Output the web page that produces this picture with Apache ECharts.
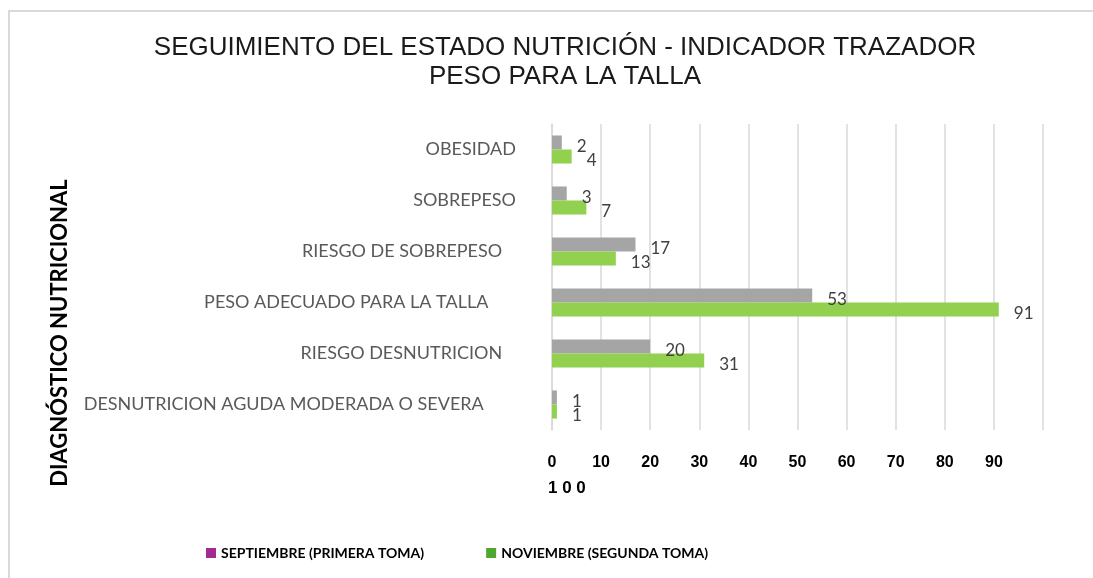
<!DOCTYPE html>
<html>
<head>
<meta charset="utf-8">
<script src="https://cdn.jsdelivr.net/npm/echarts@6/dist/echarts.min.js"></script>
<style>
  html, body { margin: 0; padding: 0; background: #fff; }
  #main { width: 1093px; height: 578px; }
</style>
</head>
<body>
<div id="main"></div>
<script>
// categorias (de abajo hacia arriba), con los espacios finales del original
var categorias = [
  'DESNUTRICION AGUDA MODERADA O SEVERA       ',
  'RIESGO DESNUTRICION   ',
  'PESO ADECUADO PARA LA TALLA      ',
  'RIESGO DE SOBREPESO   ',
  'SOBREPESO',
  'OBESIDAD'
];
var septiembre = [1, 20, 53, 17, 3, 2];
var noviembre = [1, 31, 91, 13, 7, 4];
var nombreSep = 'SEPTIEMBRE (PRIMERA TOMA)';
var nombreNov = 'NOVIEMBRE (SEGUNDA TOMA)';
var ejeMin = 0, ejeMax = 100, ejeIntervalo = 10;

var myChart = echarts.init(document.getElementById('main'));

var labelStyle = {
  show: true,
  position: 'right',
  distance: 15,
  offset: [0, 4],
  color: '#404040',
  fontFamily: 'Lato',
  fontSize: 17
};

var options = {
  animation: false,
  title: {
    text: 'SEGUIMIENTO DEL ESTADO NUTRICIÓN - INDICADOR TRAZADOR\nPESO PARA LA TALLA',
    left: 560,
    top: 28,
    textAlign: 'center',
    textStyle: {
      fontFamily: 'Liberation Sans',
      fontWeight: 'normal',
      fontSize: 26,
      lineHeight: 29,
      color: '#1a1a1a'
    }
  },
  legend: {
    bottom: 13,
    left: 201,
    itemWidth: 10,
    itemHeight: 10,
    itemGap: 62,
    icon: 'rect',
    textStyle: { fontFamily: 'Lato', fontWeight: 'bold', fontSize: 14, color: '#000' },
    data: [
      { name: nombreSep, itemStyle: { color: '#A02B93' } },
      { name: nombreNov, itemStyle: { color: '#4EA72E' } }
    ]
  },
  grid: { left: 552, right: 50, top: 124, bottom: 148 },
  xAxis: {
    type: 'value',
    min: ejeMin,
    max: ejeMax,
    interval: ejeIntervalo,
    axisLine: { show: false },
    axisTick: { show: false },
    splitLine: { lineStyle: { color: '#D9D9D9', width: 1.5 } },
    axisLabel: {
      margin: 25,
      fontFamily: 'Liberation Sans',
      fontWeight: 'bold',
      fontSize: 16,
      color: '#000',
      formatter: function (v) { return v === ejeMax ? '' : v; }
    }
  },
  yAxis: {
    type: 'category',
    data: categorias,
    axisLine: { show: true, lineStyle: { color: '#D9D9D9', width: 1.5 } },
    axisTick: { show: false },
    axisLabel: {
      margin: 36,
      fontFamily: 'Lato',
      fontSize: 18,
      color: '#595959'
    }
  },
  graphic: [
    {
      type: 'rect',
      shape: { x: 9, y: 11, width: 1100, height: 600 },
      style: { fill: 'none', stroke: '#D9D9D9', lineWidth: 2 },
      silent: true
    },
    {
      type: 'text',
      x: 60,
      y: 333,
      rotation: Math.PI / 2,
      style: {
        text: 'DIAGNÓSTICO NUTRICIONAL',
        fontFamily: 'Lato',
        fontWeight: 'bold',
        fontSize: 22,
        fill: '#000',
        align: 'center',
        verticalAlign: 'middle'
      }
    },
    {
      // etiqueta del maximo, partida en otra linea como en el original
      type: 'text',
      left: 548,
      top: 480,
      style: {
        text: String(ejeMax).split('').join(' '),
        fontFamily: 'Liberation Sans',
        fontWeight: 'bold',
        fontSize: 17,
        fill: '#000'
      }
    }
  ],
  series: [
    {
      name: nombreSep,
      type: 'bar',
      data: septiembre,
      barGap: '0%',
      barCategoryGap: '45%',
      itemStyle: { color: '#A5A5A5' },
      label: labelStyle
    },
    {
      name: nombreNov,
      type: 'bar',
      data: noviembre,
      barGap: '0%',
      barCategoryGap: '45%',
      itemStyle: { color: '#92D050' },
      label: labelStyle
    }
  ]
};

myChart.setOption(options, true);
</script>
</body>
</html>
